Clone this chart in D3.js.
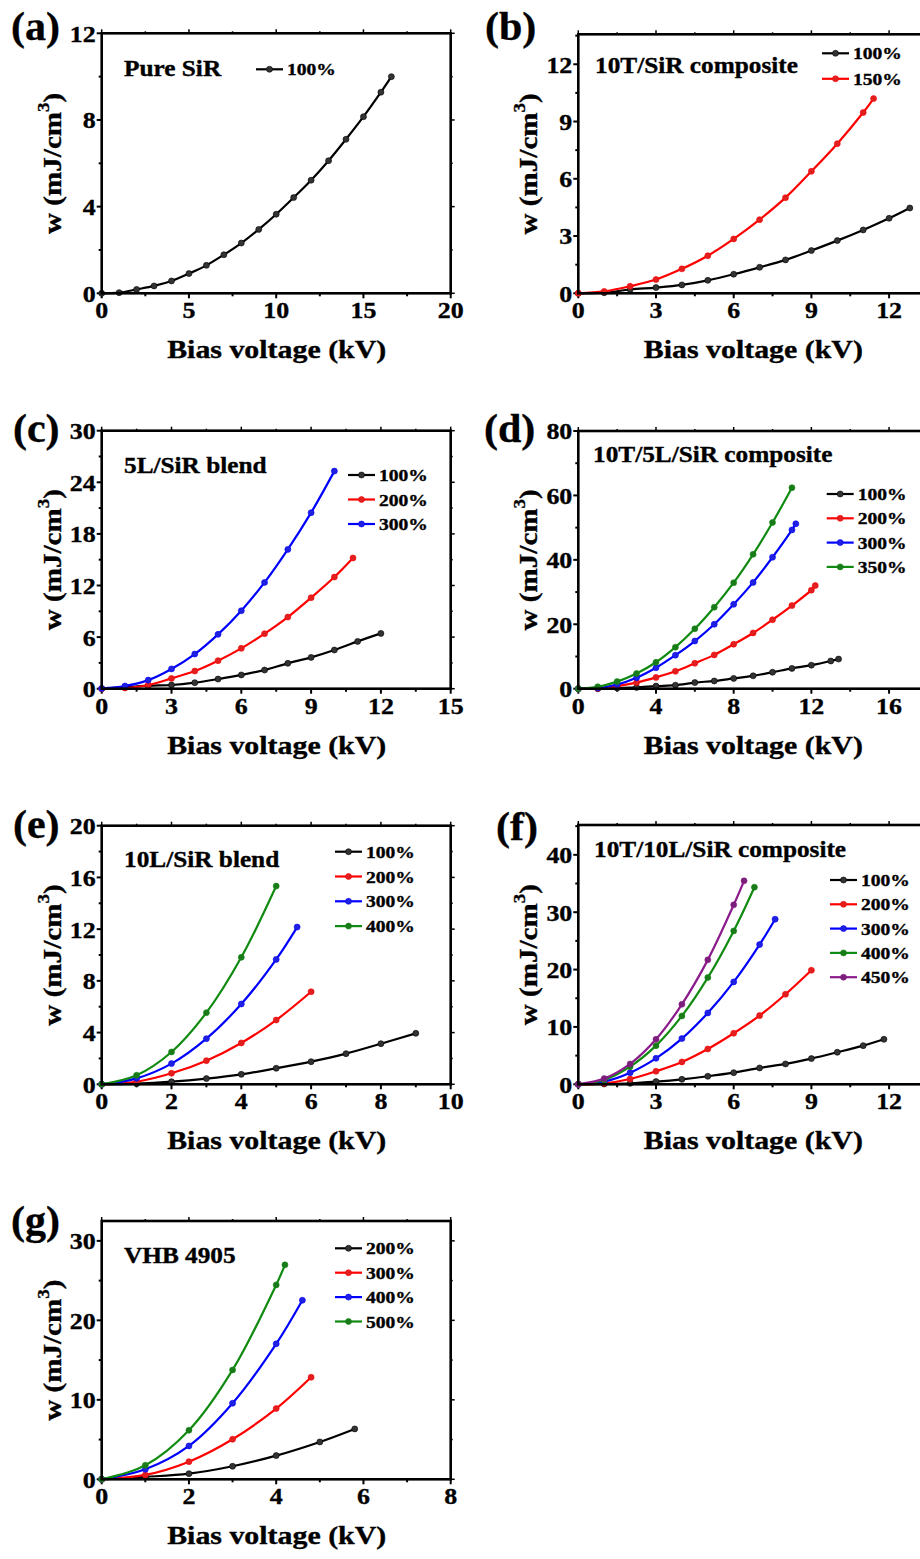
<!DOCTYPE html>
<html>
<head>
<meta charset="utf-8">
<script src="https://cdn.jsdelivr.net/npm/d3@7"></script>
<style>
  body { margin: 0; background: #fff; }
  text { font-family: "Liberation Serif", "Times New Roman", serif; font-weight: bold; fill: #000; stroke: #000; stroke-width: 0.35; }
</style>
</head>
<body>
<svg id="chart" width="920" height="1559"></svg>
<script>
// ---- data ----
// (a) Pure SiR
let aX = [0, 1, 2, 3, 4, 5, 6, 7, 8, 9, 10, 11, 12, 13, 14, 15, 16, 16.6];
let aY100 = [0, 0.03, 0.18, 0.34, 0.57, 0.91, 1.29, 1.78, 2.32, 2.95, 3.65, 4.42, 5.22, 6.12, 7.11, 8.15, 9.28, 10.0];

// (b) 10T/SiR composite
let bX100 = [0, 1, 2, 3, 4, 5, 6, 7, 8, 9, 10, 11, 12, 12.8];
let bY100 = [0, 0.03, 0.2, 0.3, 0.44, 0.68, 1.0, 1.36, 1.75, 2.24, 2.76, 3.32, 3.93, 4.47];
let bX150 = [0, 1, 2, 3, 4, 5, 6, 7, 8, 9, 10, 11, 11.4];
let bY150 = [0, 0.1, 0.37, 0.72, 1.28, 1.97, 2.85, 3.86, 5.01, 6.39, 7.84, 9.47, 10.2];

// (c) 5L/SiR blend
let cX100 = [0, 1, 2, 3, 4, 5, 6, 7, 8, 9, 10, 11, 12];
let cY100 = [0, 0.15, 0.35, 0.43, 0.7, 1.12, 1.6, 2.17, 2.95, 3.64, 4.5, 5.5, 6.43];
let cX200 = [0, 1, 2, 3, 4, 5, 6, 7, 8, 9, 10, 10.8];
let cY200 = [0, 0.08, 0.43, 1.2, 2.05, 3.26, 4.69, 6.4, 8.33, 10.58, 12.98, 15.2];
let cX300 = [0, 1, 2, 3, 4, 5, 6, 7, 8, 9, 10];
let cY300 = [0.03, 0.31, 1.0, 2.3, 4.03, 6.32, 9.07, 12.36, 16.2, 20.47, 25.3];

// (d) 10T/5L/SiR composite
let dX100 = [0, 1, 2, 3, 4, 5, 6, 7, 8, 9, 10, 11, 12, 13, 13.4];
let dY100 = [0, 0, 0.2, 0.4, 0.8, 1.1, 1.9, 2.4, 3.2, 4.0, 5.1, 6.3, 7.3, 8.6, 9.2];
let dX200 = [0, 1, 2, 3, 4, 5, 6, 7, 8, 9, 10, 11, 12, 12.2];
let dY200 = [0, 0.1, 0.8, 1.9, 3.5, 5.4, 7.9, 10.5, 13.8, 17.3, 21.4, 25.8, 30.6, 32.0];
let dX300 = [0, 1, 2, 3, 4, 5, 6, 7, 8, 9, 10, 11, 11.2];
let dY300 = [0, 0.2, 1.3, 3.4, 6.5, 10.4, 14.8, 20.0, 26.2, 33.0, 40.8, 49.3, 51.2];
let dX350 = [0, 1, 2, 3, 4, 5, 6, 7, 8, 9, 10, 11];
let dY350 = [0, 0.6, 2.2, 4.7, 8.2, 12.9, 18.6, 25.3, 32.9, 41.7, 51.6, 62.4];

// (e) 10L/SiR blend
let eX100 = [0, 1, 2, 3, 4, 5, 6, 7, 8, 9];
let eY100 = [0, 0.05, 0.2, 0.44, 0.77, 1.24, 1.75, 2.37, 3.14, 3.94];
let eX200 = [0, 1, 2, 3, 4, 5, 6];
let eY200 = [0, 0.2, 0.85, 1.83, 3.2, 4.97, 7.16];
let eX300 = [0, 1, 2, 3, 4, 5, 5.6];
let eY300 = [0, 0.46, 1.6, 3.53, 6.21, 9.66, 12.16];
let eX400 = [0, 1, 2, 3, 4, 5];
let eY400 = [0, 0.7, 2.5, 5.54, 9.82, 15.33];

// (f) 10T/10L/SiR composite
let fX100 = [0, 1, 2, 3, 4, 5, 6, 7, 8, 9, 10, 11, 11.8];
let fY100 = [0, 0.06, 0.17, 0.47, 0.87, 1.4, 2.03, 2.85, 3.55, 4.48, 5.58, 6.74, 7.85];
let fX200 = [0, 1, 2, 3, 4, 5, 6, 7, 8, 9];
let fY200 = [0, 0.17, 0.93, 2.27, 3.9, 6.16, 8.9, 11.98, 15.7, 19.88];
let fX300 = [0, 1, 2, 3, 4, 5, 6, 7, 7.6];
let fY300 = [0, 0.47, 2.03, 4.53, 7.97, 12.44, 17.85, 24.36, 28.78];
let fX400 = [0, 1, 2, 3, 4, 5, 6, 6.8];
let fY400 = [0, 0.76, 3.08, 6.74, 11.92, 18.6, 26.74, 34.36];
let fX450 = [0, 1, 2, 3, 4, 5, 6, 6.4];
let fY450 = [0, 0.99, 3.55, 7.85, 13.95, 21.69, 31.28, 35.47];

// (g) VHB 4905
let gX200 = [0, 1, 2, 3, 4, 5, 5.8];
let gY200 = [0, 0.3, 0.71, 1.64, 2.98, 4.7, 6.34];
let gX300 = [0, 1, 2, 3, 4, 4.8];
let gY300 = [0, 0.55, 2.22, 5.04, 8.9, 12.84];
let gX400 = [0, 1, 2, 3, 4, 4.6];
let gY400 = [0, 1.26, 4.2, 9.57, 17.04, 22.53];
let gX500 = [0, 1, 2, 3, 4, 4.2];
let gY500 = [0, 1.76, 6.17, 13.76, 24.46, 26.98];

let colors = { k: "#000000", r: "#ff0000", b: "#0000ff", g: "#108a10", p: "#8b1a8b" };
let markColors = { k: "#333333", r: "#e02020", b: "#2020e0", g: "#1a7a1a", p: "#7a207a" };

let svg = d3.select("#chart");

// text with a slight horizontal stretch, like the source image
function label(g, x, y, str, size, opts) {
    opts = opts || {};
    let sx = opts.sx || 1.12;
    let t = g.append("text")
        .attr("transform", "translate(" + x + "," + y + ") scale(" + sx + ",1)")
        .attr("font-size", size)
        .attr("text-anchor", opts.anchor || "start")
        .text(str);
    if (opts.dy) t.attr("dy", opts.dy);
    return t;
}

function panel(p) {
    let g = svg.append("g");
    let x = d3.scaleLinear().domain(p.xDomain).range([p.left, p.right]);
    let y = d3.scaleLinear().domain(p.yDomain).range([p.bottom, p.top]);

    // minor + major ticks on all four sides
    let xt = d3.range(p.xDomain[0], p.xDomain[1] + 1e-6, p.xMinor);
    let yt = d3.range(p.yDomain[0], p.yDomain[1] + 1e-6, p.yMinor);
    let isMajor = (v, step) => Math.abs(v / step - Math.round(v / step)) < 1e-6;

    xt.forEach(v => {
        let len = isMajor(v, p.xStep) ? 5 : 3;
        g.append("line").attr("x1", x(v)).attr("x2", x(v))
            .attr("y1", p.bottom).attr("y2", p.bottom + len)
            .attr("stroke", "#000").attr("stroke-width", 2);
        g.append("line").attr("x1", x(v)).attr("x2", x(v))
            .attr("y1", p.top).attr("y2", p.top - len + 1)
            .attr("stroke", "#000").attr("stroke-width", 1.5);
    });
    yt.forEach(v => {
        let len = isMajor(v, p.yStep) ? 5 : 3;
        g.append("line").attr("y1", y(v)).attr("y2", y(v))
            .attr("x1", p.left).attr("x2", p.left - len)
            .attr("stroke", "#000").attr("stroke-width", 2);
        g.append("line").attr("y1", y(v)).attr("y2", y(v))
            .attr("x1", p.right).attr("x2", p.right + len - 1)
            .attr("stroke", "#000").attr("stroke-width", 1.5);
    });

    // tick labels
    d3.range(p.xDomain[0], p.xTickMax + 1e-6, p.xStep).forEach(v => {
        label(g, x(v), p.bottom + 25, String(v), 24, { anchor: "middle", sx: 1.08 });
    });
    d3.range(p.yDomain[0], p.yTickMax + 1e-6, p.yStep).forEach(v => {
        label(g, p.left - 6, y(v), String(v), 24, { anchor: "end", sx: 1.08, dy: "0.35em" });
    });

    // series
    let line = d3.line().x(d => x(d[0])).y(d => y(d[1])).curve(d3.curveCatmullRom.alpha(0.5));
    p.series.forEach(s => {
        let pts = s.x.map((v, i) => [v, s.y[i]]);
        g.append("path").datum(pts).attr("d", line)
            .attr("fill", "none").attr("stroke", colors[s.c]).attr("stroke-width", 2.2);
        g.selectAll(null).data(pts).enter().append("circle")
            .attr("cx", d => x(d[0])).attr("cy", d => y(d[1])).attr("r", 3)
            .attr("fill", markColors[s.c]).attr("stroke", colors[s.c]).attr("stroke-width", 0.6);
    });

    // frame
    g.append("rect").attr("x", p.left).attr("y", p.top)
        .attr("width", p.right - p.left).attr("height", p.bottom - p.top)
        .attr("fill", "none").attr("stroke", "#000").attr("stroke-width", 2.6);

    // axis titles
    label(g, p.left + 175, p.bottom + 65, "Bias voltage (kV)", 26, { anchor: "middle", sx: 1.15 });
    let yt2 = g.append("text")
        .attr("transform", "translate(" + (p.left - 41) + "," + ((p.top + p.bottom) / 2) + ") rotate(-90) scale(1.12,1)")
        .attr("font-size", 26).attr("text-anchor", "middle");
    yt2.append("tspan").text("w (mJ/cm");
    yt2.append("tspan").attr("font-size", 17).attr("dy", -12).text("3");
    yt2.append("tspan").attr("dy", 12).text(")");

    // panel letter and title
    label(g, p.tagX, p.tagY, p.tag, 40, { sx: 1.05 });
    label(g, p.titleX, p.titleY, p.title, 23, { sx: 1.1 });

    // legend
    p.series.forEach((s, i) => {
        let ly = p.legY + i * p.legGap;
        g.append("line").attr("x1", p.legX).attr("x2", p.legX + 27)
            .attr("y1", ly).attr("y2", ly)
            .attr("stroke", colors[s.c]).attr("stroke-width", 2.2);
        g.append("circle").attr("cx", p.legX + 13.5).attr("cy", ly).attr("r", 3)
            .attr("fill", markColors[s.c]).attr("stroke", colors[s.c]).attr("stroke-width", 0.6);
        label(g, p.legX + 31, ly + 6, s.name, 17, { sx: 1.15 });
    });
}

panel({
    tag: "(a)", tagX: 11, tagY: 40, title: "Pure SiR", titleX: 124, titleY: 76,
    left: 101.7, right: 450.7, top: 33.3, bottom: 293.3,
    xDomain: [0, 20], xStep: 5, xMinor: 2.5, xTickMax: 20,
    yDomain: [0, 12], yStep: 4, yMinor: 2, yTickMax: 12,
    legX: 256, legY: 69.3, legGap: 24,
    series: [{ name: "100%", c: "k", x: aX, y: aY100 }]
});

panel({
    tag: "(b)", tagX: 485, tagY: 40, title: "10T/SiR composite", titleX: 595, titleY: 72.5,
    left: 578.3, right: 940.9, top: 34.3, bottom: 293.3,
    xDomain: [0, 14], xStep: 3, xMinor: 1.5, xTickMax: 12,
    yDomain: [0, 13.57], yStep: 3, yMinor: 1.5, yTickMax: 12,
    legX: 822, legY: 53.3, legGap: 25.5,
    series: [
        { name: "100%", c: "k", x: bX100, y: bY100 },
        { name: "150%", c: "r", x: bX150, y: bY150 }
    ]
});

panel({
    tag: "(c)", tagX: 13, tagY: 442, title: "5L/SiR blend", titleX: 124, titleY: 472.5,
    left: 101.7, right: 450.7, top: 430.7, bottom: 688.7,
    xDomain: [0, 15], xStep: 3, xMinor: 1.5, xTickMax: 15,
    yDomain: [0, 30], yStep: 6, yMinor: 3, yTickMax: 30,
    legX: 348, legY: 475, legGap: 24.5,
    series: [
        { name: "100%", c: "k", x: cX100, y: cY100 },
        { name: "200%", c: "r", x: cX200, y: cY200 },
        { name: "300%", c: "b", x: cX300, y: cY300 }
    ]
});

panel({
    tag: "(d)", tagX: 484, tagY: 442, title: "10T/5L/SiR composite", titleX: 593, titleY: 461.5,
    left: 578.3, right: 927.9, top: 431, bottom: 688.7,
    xDomain: [0, 18], xStep: 4, xMinor: 2, xTickMax: 16,
    yDomain: [0, 80], yStep: 20, yMinor: 10, yTickMax: 80,
    legX: 826.7, legY: 494, legGap: 24.3,
    series: [
        { name: "100%", c: "k", x: dX100, y: dY100 },
        { name: "200%", c: "r", x: dX200, y: dY200 },
        { name: "300%", c: "b", x: dX300, y: dY300 },
        { name: "350%", c: "g", x: dX350, y: dY350 }
    ]
});

panel({
    tag: "(e)", tagX: 13, tagY: 838, title: "10L/SiR blend", titleX: 124, titleY: 867,
    left: 101.7, right: 450.7, top: 825.7, bottom: 1084.3,
    xDomain: [0, 10], xStep: 2, xMinor: 1, xTickMax: 10,
    yDomain: [0, 20], yStep: 4, yMinor: 2, yTickMax: 20,
    legX: 335, legY: 851.7, legGap: 24.8,
    series: [
        { name: "100%", c: "k", x: eX100, y: eY100 },
        { name: "200%", c: "r", x: eX200, y: eY200 },
        { name: "300%", c: "b", x: eX300, y: eY300 },
        { name: "400%", c: "g", x: eX400, y: eY400 }
    ]
});

panel({
    tag: "(f)", tagX: 496, tagY: 840, title: "10T/10L/SiR composite", titleX: 594, titleY: 857,
    left: 578.3, right: 940.9, top: 825, bottom: 1084.3,
    xDomain: [0, 14], xStep: 3, xMinor: 1.5, xTickMax: 12,
    yDomain: [0, 45.2], yStep: 10, yMinor: 5, yTickMax: 40,
    legX: 830, legY: 880, legGap: 24.3,
    series: [
        { name: "100%", c: "k", x: fX100, y: fY100 },
        { name: "200%", c: "r", x: fX200, y: fY200 },
        { name: "300%", c: "b", x: fX300, y: fY300 },
        { name: "400%", c: "g", x: fX400, y: fY400 },
        { name: "450%", c: "p", x: fX450, y: fY450 }
    ]
});

panel({
    tag: "(g)", tagX: 11, tagY: 1234, title: "VHB 4905", titleX: 124, titleY: 1263,
    left: 101.7, right: 450.7, top: 1221, bottom: 1479.3,
    xDomain: [0, 8], xStep: 2, xMinor: 1, xTickMax: 8,
    yDomain: [0, 32.5], yStep: 10, yMinor: 5, yTickMax: 30,
    legX: 335, legY: 1248.3, legGap: 24.4,
    series: [
        { name: "200%", c: "k", x: gX200, y: gY200 },
        { name: "300%", c: "r", x: gX300, y: gY300 },
        { name: "400%", c: "b", x: gX400, y: gY400 },
        { name: "500%", c: "g", x: gX500, y: gY500 }
    ]
});
</script>
</body>
</html>
